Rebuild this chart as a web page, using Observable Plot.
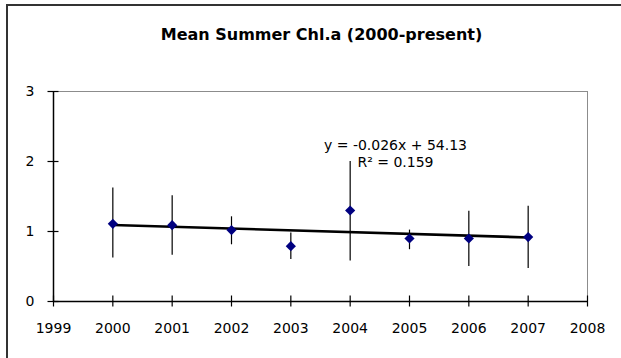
<!DOCTYPE html>
<html>
<head>
<meta charset="utf-8">
<script src="https://cdn.jsdelivr.net/npm/d3@7"></script>
<script src="https://cdn.jsdelivr.net/npm/@observablehq/plot@0.6"></script>
<style>
  html, body { margin: 0; padding: 0; background: #fff; overflow: hidden; }
  #wrap { position: relative; width: 621px; height: 358px; }
  #frame { position: absolute; left: 6px; top: 4px; width: 700px; height: 500px;
           border-left: 2px solid #333; border-top: 2px solid #333; }
  #title { position: absolute; left: 0; top: 25px; width: 621px; text-align: center;
           font: bold 16px "DejaVu Sans", sans-serif; color: #000; padding-left: 22px; box-sizing: border-box; }
  #chart { position: absolute; left: 0; top: 0; }
</style>
</head>
<body>
<div id="wrap">
  <div id="frame"></div>
  <div id="title">Mean Summer Chl.a (2000-present)</div>
  <div id="chart"></div>
</div>
<script>
const years = [2000, 2001, 2002, 2003, 2004, 2005, 2006, 2007];
const means = [1.11, 1.09, 1.02, 0.79, 1.30, 0.90, 0.90, 0.92];
const lows  = [0.62, 0.66, 0.81, 0.60, 0.58, 0.74, 0.50, 0.47];
const highs = [1.62, 1.51, 1.21, 0.98, 2.00, 1.02, 1.29, 1.36];
const xTicks = [1999, 2000, 2001, 2002, 2003, 2004, 2005, 2006, 2007, 2008];
const yTicks = [0, 1, 2, 3];
const equation = "y = -0.026x + 54.13\nR² = 0.159";

const data = years.map((yr, i) => ({year: yr, mean: means[i], lo: lows[i], hi: highs[i]}));
const font = "DejaVu Sans, sans-serif";

const chart = Plot.plot({
  width: 621,
  height: 358,
  marginLeft: 53,
  marginRight: 34,
  marginTop: 91,
  marginBottom: 57,
  style: {fontFamily: font, fontSize: "14px", color: "#000", background: "transparent"},
  x: {domain: [1999, 2008], axis: null},
  y: {domain: [0, 3], axis: null},
  marks: [
    Plot.frame({stroke: "#8c8c8c", strokeWidth: 1}),
    Plot.ruleY([0], {stroke: "#000", strokeWidth: 1.5}),
    Plot.ruleX([1999], {stroke: "#000", strokeWidth: 1.5}),
    Plot.axisX({ticks: xTicks, tickSize: 11, dy: -5.5, tickFormat: () => "", label: null, stroke: "#000", strokeWidth: 1.2}),
    Plot.axisX({ticks: xTicks, tickSize: 0, tickPadding: 22, tickFormat: d => String(d), label: null, fontSize: 14, fill: "#000"}),
    Plot.axisY({ticks: yTicks, tickSize: 11, dx: 5.5, tickFormat: () => "", label: null, stroke: "#000", strokeWidth: 1.2}),
    Plot.axisY({ticks: yTicks, tickSize: 0, tickPadding: 19, tickFormat: d => String(d), label: null, fontSize: 14, fill: "#000"}),
    Plot.ruleX(data, {x: "year", y1: "lo", y2: "hi", stroke: "#000", strokeWidth: 1.2}),
    Plot.linearRegressionY(data, {x: "year", y: "mean", stroke: "#000", strokeWidth: 2.6, ci: 0}),
    Plot.dot(data, {x: "year", y: "mean", symbol: "diamond2", r: 4.6, fill: "#000080", stroke: "none"}),
    Plot.text([equation], {frameAnchor: "top-left", dx: 342, dy: 47, text: d => d,
      textAnchor: "middle", lineAnchor: "top", lineHeight: 1.2, fontSize: 14, fill: "#000"})
  ]
});
document.getElementById("chart").appendChild(chart);
</script>
</body>
</html>
